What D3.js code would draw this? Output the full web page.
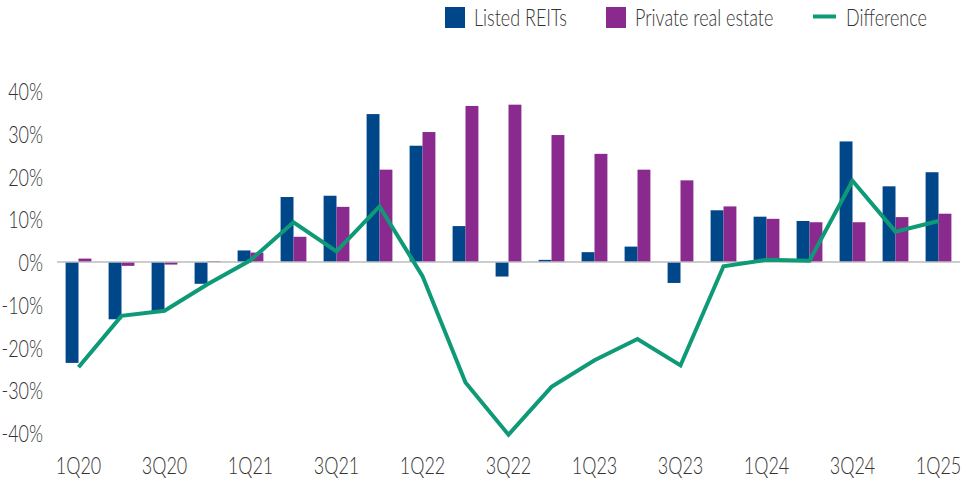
<!DOCTYPE html>
<html>
<head>
<meta charset="utf-8">
<script src="https://cdn.jsdelivr.net/npm/d3@7"></script>
<style>
  body { margin: 0; background: #fff; }
  svg text { font-family: Lato, "Open Sans", sans-serif; font-weight: 300; fill: #333; }
</style>
</head>
<body>
<svg id="chart"></svg>
<script>
// Data (total return, %)
const quarters = ['1Q20','2Q20','3Q20','4Q20','1Q21','2Q21','3Q21','4Q21','1Q22','2Q22','3Q22',
                  '4Q22','1Q23','2Q23','3Q23','4Q23','1Q24','2Q24','3Q24','4Q24','1Q25'];
const listedReits = [-23.6,-13.4,-11.8,-5.1,2.7,15.2,15.5,34.6,27.2,8.4,-3.4,
                     0.5,2.3,3.6,-4.9,12.1,10.6,9.6,28.2,17.7,21.0];
const privateRE   = [0.8,-0.9,-0.6,0.2,2.2,5.9,12.9,21.6,30.4,36.5,36.8,
                     29.7,25.3,21.6,19.1,13.0,10.1,9.3,9.3,10.5,11.3];
const difference  = [-24.6,-12.6,-11.4,-5.2,0.4,9.3,2.5,13.0,-3.3,-28.2,-40.4,
                     -29.2,-23.0,-18.0,-24.2,-1.0,0.5,0.3,19.0,7.1,9.6];
const yTicks = [-40,-30,-20,-10,0,10,20,30,40];
const xLabels = ['1Q20','3Q20','1Q21','3Q21','1Q22','3Q22','1Q23','3Q23','1Q24','3Q24','1Q25'];

const w = 966, h = 502;
const colors = { listed: '#00478a', priv: '#8b2a8e', diff: '#0e9a77' };
const fontSize = 24;

const svg = d3.select('#chart').attr('width', w).attr('height', h);

// Scales
const x = d3.scaleBand().domain(quarters).range([57, 960]);
const step = x.step();
const xInner = d3.scaleBand().domain(['listed','priv']).range([0, step * 0.6]);
const y = d3.scaleLinear().domain([-40, 40]).range([433, 91]);

// The original uses a condensed face; squeeze the text horizontally to match
const probe = svg.append('text').attr('font-size', fontSize).text('Listed REITs');
const squeeze = 93 / probe.node().getComputedTextLength();
probe.remove();

// Y axis labels
svg.append('g')
  .attr('transform', 'translate(43,0)')
  .call(d3.axisLeft(y).tickValues(yTicks).tickSize(0).tickPadding(0).tickFormat(d => `${d}%`))
  .call(g => g.select('.domain').remove())
  .selectAll('text')
  .attr('font-size', fontSize)
  .attr('dy', '0.36em')
  .attr('transform', `scale(${squeeze},1)`);

// X axis labels
svg.append('g')
  .attr('transform', 'translate(0,465)')
  .call(d3.axisBottom(x).tickValues(xLabels).tickSize(0).tickPadding(0))
  .call(g => g.select('.domain').remove())
  .selectAll('text')
  .attr('font-size', fontSize)
  .attr('dy', '0.36em')
  .attr('transform', `scale(${squeeze},1)`);

// Bars
const groups = svg.append('g').selectAll('g')
  .data(quarters.map((q, i) => ({ q, listed: listedReits[i], priv: privateRE[i] })))
  .enter().append('g')
  .attr('transform', d => `translate(${x(d.q) + step * 0.2},0)`);

groups.selectAll('rect')
  .data(d => [{ k: 'listed', v: d.listed }, { k: 'priv', v: d.priv }])
  .enter().append('rect')
  .attr('x', d => xInner(d.k))
  .attr('width', xInner.bandwidth())
  .attr('y', d => y(Math.max(0, d.v)))
  .attr('height', d => Math.abs(y(d.v) - y(0)))
  .attr('fill', d => colors[d.k]);

// Zero line
svg.append('line')
  .attr('x1', 57).attr('x2', 960)
  .attr('y1', y(0)).attr('y2', y(0))
  .attr('stroke', '#bdbdbd').attr('stroke-width', 1.5);

// Difference line
const line = d3.line()
  .x((d, i) => x(quarters[i]) + step / 2)
  .y(d => y(d));

svg.append('path')
  .datum(difference)
  .attr('d', line)
  .attr('fill', 'none')
  .attr('stroke', colors.diff)
  .attr('stroke-width', 4)
  .attr('stroke-linejoin', 'miter');

// Legend
const legend = svg.append('g').attr('class', 'legend');
const legendItems = [
  { label: 'Listed REITs', type: 'rect', color: colors.listed, x: 445 },
  { label: 'Private real estate', type: 'rect', color: colors.priv, x: 606 },
  { label: 'Difference', type: 'line', color: colors.diff, x: 813 }
];
legendItems.forEach(it => {
  if (it.type === 'rect') {
    legend.append('rect').attr('x', it.x).attr('y', 7).attr('width', 20).attr('height', 21).attr('fill', it.color);
  } else {
    legend.append('line').attr('x1', it.x).attr('x2', it.x + 23).attr('y1', 16.5).attr('y2', 16.5)
      .attr('stroke', it.color).attr('stroke-width', 4);
  }
  legend.append('g')
    .attr('transform', `translate(${it.type === 'rect' ? it.x + 29 : it.x + 33},17.5)`)
    .append('text')
    .attr('dy', '0.36em')
    .attr('font-size', fontSize)
    .attr('transform', `scale(${squeeze},1)`)
    .text(it.label);
});
</script>
</body>
</html>
